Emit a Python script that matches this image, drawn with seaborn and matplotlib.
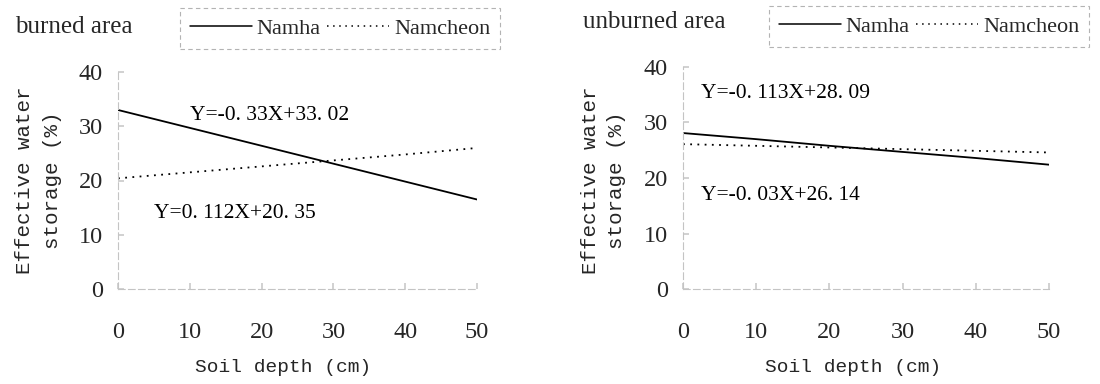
import matplotlib
matplotlib.use("Agg")
import matplotlib.pyplot as plt
import seaborn as sns
import pandas as pd
from matplotlib.lines import Line2D

# ---- data ----
depth = [0, 10, 20, 30, 40, 50]
burned_namha = [33.0, 29.7, 26.4, 23.1, 19.8, 16.5]
burned_namcheon = [20.4, 21.5, 22.6, 23.7, 24.8, 26.0]
unburned_namha = [28.1, 27.0, 25.8, 24.7, 23.6, 22.4]
unburned_namcheon = [26.1, 25.8, 25.5, 25.2, 24.9, 24.6]
sites = ["Namha", "Namcheon"]
titles = ["burned area", "unburned area"]
eq_burned = ["Y=-0. 33X+33. 02", "Y=0. 112X+20. 35"]
eq_unburned = ["Y=-0. 113X+28. 09", "Y=-0. 03X+26. 14"]
xticks = [0, 10, 20, 30, 40, 50]
yticks = [0, 10, 20, 30, 40]

sns.set_theme(style="white")
plt.rcParams["font.family"] = ["Liberation Serif", "DejaVu Serif"]

def frame(a, b):
    return pd.DataFrame({
        "depth": depth * 2,
        "value": a + b,
        "site": [sites[0]] * len(depth) + [sites[1]] * len(depth),
    })

dfs = [frame(burned_namha, burned_namcheon), frame(unburned_namha, unburned_namcheon)]
eqs = [eq_burned, eq_unburned]

fig = plt.figure(figsize=(11, 3.84), dpi=100)
W, H = 1100, 384
boxes = [(118, 477, 72, 289), (683, 1049, 67, 289)]
axes = []
for (l, r, t, b) in boxes:
    axes.append(fig.add_axes([l / W, (H - b) / H, (r - l) / W, (b - t) / H]))

dashes = {"Namha": "", "Namcheon": (1, 3)}
palette = {"Namha": "black", "Namcheon": "black"}
eq_pos = [[(0.20, 0.80), (0.10, 0.35)], [(0.05, 0.88), (0.05, 0.42)]]
ylab_x = [(25, 52), (590, 616)]
title_pos = [(15, 27), (583, 22)]
leg_box = [(190, 5, 300, 47), (760, 5, 338, 43)]
mono = ["Liberation Mono", "DejaVu Sans Mono"]

for i, ax in enumerate(axes):
    sns.lineplot(data=dfs[i], x="depth", y="value", hue="site", style="site",
                 dashes=dashes, palette=palette, ax=ax, legend=False,
                 linewidth=1.3)
    ax.set_xlim(0, 50)
    ax.set_ylim(0, 40)
    ax.set_xticks(xticks)
    ax.set_yticks(yticks)
    ax.tick_params(axis="x", direction="in", length=4, color="#cccccc",
                   pad=24, labelsize=17.5, bottom=True)
    ax.tick_params(axis="y", direction="in", length=4, color="#cccccc",
                   pad=11, labelsize=17.5, left=True)
    for s in ["top", "right"]:
        ax.spines[s].set_visible(False)
    for s in ["left", "bottom"]:
        ax.spines[s].set_color("#c4c4c4")
        ax.spines[s].set_linewidth(0.8)
        ax.spines[s].set_linestyle((0, (6, 3)))
    ax.set_xlabel("")
    ax.set_ylabel("")
    for (x, y), txt in zip(eq_pos[i], eqs[i]):
        ax.text(x, y, txt, transform=ax.transAxes, fontsize=15.5, color="black",
                ha="left", va="center")
    fig.text([283, 853][i] / W, 1 - 367 / H, "Soil depth (cm)",
             family=mono, fontsize=14, ha="center", va="center")
    fig.text(ylab_x[i][0] / W, 1 - 180 / H, "Effective water",
             family=mono, fontsize=15, rotation=90, ha="center", va="center")
    fig.text(ylab_x[i][1] / W, 1 - 180 / H, "storage (%)",
             family=mono, fontsize=15, rotation=90, ha="center", va="center")
    fig.text(title_pos[i][0] / W, 1 - title_pos[i][1] / H, titles[i],
             fontsize=18, ha="left", va="center")
    handles = [Line2D([], [], color="black", lw=1.1, linestyle="-"),
               Line2D([], [], color="black", lw=1.1, linestyle=(0, (1, 3)))]
    lx, ly, lw, lh = leg_box[i]
    leg = fig.legend(handles, sites, ncol=2, loc="center",
                     bbox_to_anchor=((lx + lw / 2) / W, 1 - (ly + lh / 2) / H),
                     frameon=True, fontsize=16, handlelength=2.8,
                     handletextpad=0.2, columnspacing=0.3, borderpad=0.45,
                     fancybox=False)
    fr = leg.get_frame()
    fr.set_edgecolor("#a0a0a0")
    fr.set_linestyle((0, (4, 3)))
    fr.set_linewidth(0.8)

fig.savefig("out.png", dpi=100)
